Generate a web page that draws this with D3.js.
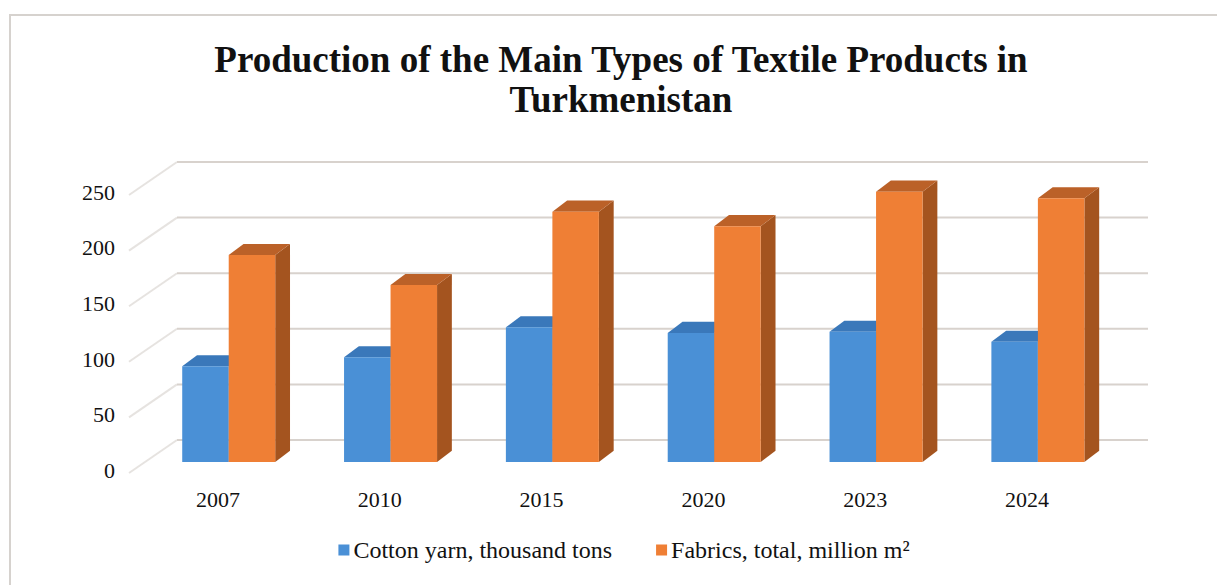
<!DOCTYPE html>
<html>
<head>
<meta charset="utf-8">
<script src="https://cdn.jsdelivr.net/npm/d3@7/dist/d3.min.js"></script>
<style>
  html, body { margin: 0; padding: 0; background: #ffffff; }
  svg { display: block; }
  text { font-family: "Liberation Serif", "Times New Roman", serif; fill: #111; }
</style>
</head>
<body>
<svg id="chart" width="1217" height="585"></svg>
<script>
// Production of textile products in Turkmenistan
const years = ["2007", "2010", "2015", "2020", "2023", "2024"];
const cottonYarn = [86, 94, 121, 116, 117, 108];      // thousand tons
const fabrics = [186, 159, 225, 212, 243, 237];       // million m²
const yTicks = [0, 50, 100, 150, 200, 250];
const seriesNames = ["Cotton yarn, thousand tons", "Fabrics, total, million m²"];
const titleLines = ["Production of the Main Types of Textile Products in", "Turkmenistan"];

const W = 1217, H = 585;
const svg = d3.select("#chart");

// outer frame
svg.append("rect")
  .attr("x", 10).attr("y", 15)
  .attr("width", W + 20).attr("height", H + 20)
  .attr("fill", "#fff").attr("stroke", "#d6d2ce").attr("stroke-width", 2);

// oblique 3D projection: depth z runs 0 (front floor edge) .. 1 (back wall)
const depthX = 40, depthY = -30;
const x = d3.scaleBand().domain(years).range([137, 1108]);
const y = d3.scaleLinear().domain([0, 250]).range([470, 192]);
const proj = (px, v, z) => [px + z * depthX, y(v) + z * depthY];

const zFront = 0.27, zBack = 0.64;
const groupW = 93;
const barW = groupW / 2;

// side wall diagonals
const g = svg.append("g");
g.selectAll("line.side").data(yTicks).join("line")
  .attr("class", "side")
  .attr("x1", d => proj(x.range()[0] - 4, d, -0.1)[0])
  .attr("y1", d => proj(x.range()[0] - 4, d, -0.1)[1])
  .attr("x2", d => proj(x.range()[0], d, 1)[0])
  .attr("y2", d => proj(x.range()[0], d, 1)[1])
  .attr("stroke", "#e6e3e0").attr("stroke-width", 2);

// back wall gridlines
g.selectAll("line.grid").data(yTicks).join("line")
  .attr("class", "grid")
  .attr("x1", d => proj(x.range()[0], d, 1)[0])
  .attr("x2", d => proj(x.range()[1], d, 1)[0])
  .attr("y1", d => proj(0, d, 1)[1])
  .attr("y2", d => proj(0, d, 1)[1])
  .attr("stroke", "#d8d2cd").attr("stroke-width", 2);

// 3D columns
const series = [
  { values: cottonYarn, front: "#4a90d6", top: "#3a78ba", side: "#2f6aa6" },
  { values: fabrics, front: "#ef7f35", top: "#bb6128", side: "#a4541f" }
];
const pts = a => a.map(p => p.join(",")).join(" ");

years.forEach((yr, i) => {
  const cx = x(yr) + x.bandwidth() / 2;
  series.forEach((s, si) => {
    const v = s.values[i];
    const x0 = cx - groupW / 2 + si * barW, x1 = x0 + barW;
    const bar = g.append("g");
    // right side face
    bar.append("polygon").attr("fill", s.side).attr("points", pts([
      proj(x1, 0, zFront), proj(x1, v, zFront), proj(x1, v, zBack), proj(x1, 0, zBack)
    ]));
    // top face
    bar.append("polygon").attr("fill", s.top).attr("points", pts([
      proj(x0, v, zFront), proj(x1, v, zFront), proj(x1, v, zBack), proj(x0, v, zBack)
    ]));
    // front face
    bar.append("polygon").attr("fill", s.front).attr("points", pts([
      proj(x0, 0, zFront), proj(x1, 0, zFront), proj(x1, v, zFront), proj(x0, v, zFront)
    ]));
  });
});

// value axis labels
svg.append("g").selectAll("text").data(yTicks).join("text")
  .attr("x", 115).attr("y", d => y(d))
  .attr("dy", "0.35em")
  .attr("text-anchor", "end")
  .attr("font-size", 22)
  .text(d => d);

// category labels
svg.append("g").selectAll("text").data(years).join("text")
  .attr("x", d => x(d) + x.bandwidth() / 2)
  .attr("y", 507)
  .attr("text-anchor", "middle")
  .attr("font-size", 22)
  .text(d => d);

// title
svg.append("g").selectAll("text").data(titleLines).join("text")
  .attr("x", 621)
  .attr("y", (d, i) => 72 + i * 40)
  .attr("text-anchor", "middle")
  .attr("font-size", 37)
  .attr("font-weight", "bold")
  .text(d => d);

// legend
const legend = svg.append("g");
const swatch = 11, gapSw = 4, gapItem = 44;
const items = seriesNames.map((name, i) => {
  const it = legend.append("g");
  it.append("rect").attr("width", swatch).attr("height", swatch)
    .attr("y", -swatch / 2).attr("fill", series[i].front);
  const t = it.append("text").attr("x", swatch + gapSw).attr("dy", "0.35em")
    .attr("font-size", 24).text(name);
  return { g: it, w: swatch + gapSw + t.node().getComputedTextLength() };
});
const totalW = d3.sum(items, d => d.w) + gapItem * (items.length - 1);
let lx = 624 - totalW / 2;
items.forEach(it => {
  it.g.attr("transform", `translate(${lx},550)`);
  lx += it.w + gapItem;
});
</script>
</body>
</html>
